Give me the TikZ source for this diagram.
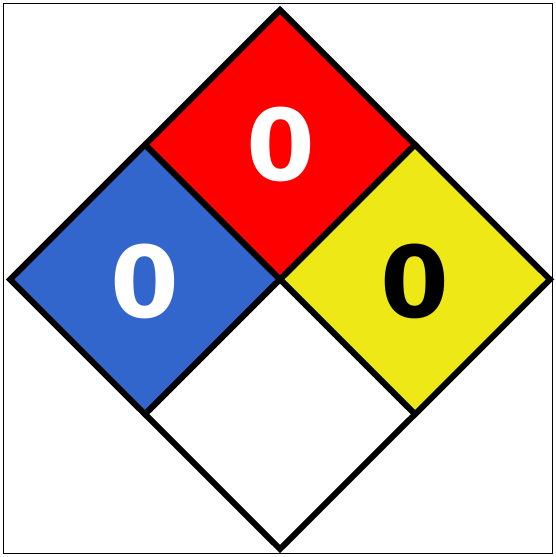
\documentclass[tikz,border=0pt]{standalone}
\usepackage{fontspec}
\newfontfamily\hazfont{DejaVu Sans}
\usepackage{tikz}
\usetikzlibrary{positioning}
\usepackage{xcolor}
\definecolor{hazred}{RGB}{255,0,0}
\definecolor{hazblue}{RGB}{51,102,204}
\definecolor{hazyellow}{RGB}{238,232,22}

\begin{document}
\begin{tikzpicture}[
  x=1pt, y=1pt,
  quad/.style={draw=black, line width=6pt, line join=miter},
  frame/.style={draw=black, line width=1.5pt},
  rating/.style={font=\hazfont\bfseries\fontsize{99}{99}\selectfont,
                 inner sep=0pt, anchor=center}
]
\useasboundingbox (0,0) rectangle (556,557);

% outer frame
\draw[frame] (3.5,3.5) rectangle (552.5,553.5);

% corners of the diamond
\coordinate (top) at (280,547);
\coordinate (lft) at (10,277.5);
\coordinate (rgt) at (550,277.5);
\coordinate (bot) at (280,8);
\coordinate (ctr) at (280,277.5);
\coordinate (tl) at (145,412.25);
\coordinate (tr) at (415,412.25);
\coordinate (bl) at (145,142.75);
\coordinate (br) at (415,142.75);

% four quadrants
\draw[quad, fill=hazred] (top) -- (tr) -- (ctr) -- (tl) -- cycle;
\draw[quad, fill=hazblue] (tl) -- (ctr) -- (bl) -- (lft) -- cycle;
\draw[quad, fill=hazyellow] (tr) -- (rgt) -- (br) -- (ctr) -- cycle;
\draw[quad, fill=white] (ctr) -- (br) -- (bot) -- (bl) -- cycle;

% ratings
\node[rating, text=white] (health) at (145,275.5) {0};
\node[rating, text=white] (fire) at (280.5,413) {0};
\node[rating, text=black] (react) at (415,275.5) {0};

\end{tikzpicture}
\end{document}
